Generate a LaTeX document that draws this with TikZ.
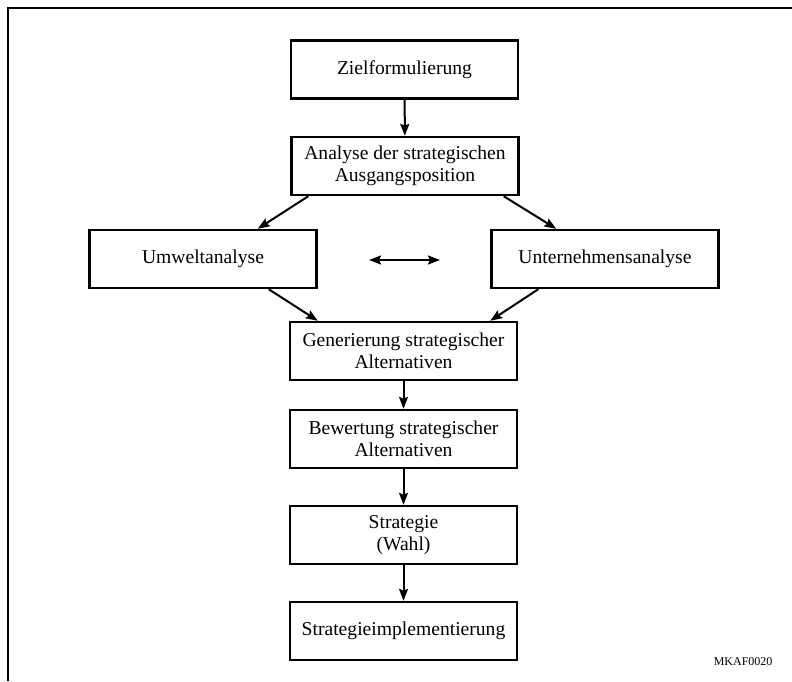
\documentclass[tikz,border=0pt]{standalone}
\usepackage{fontspec}
\setmainfont{Liberation Serif}
\usetikzlibrary{arrows.meta,calc}
\begin{document}
\begin{tikzpicture}[x=1pt,y=-1pt,
  stepbox/.style={draw, line width=2.4pt, minimum width=227pt, minimum height=58pt,
    inner sep=2pt, align=center, font=\fontsize{19.6}{22}\selectfont},
  tip/.tip={Stealth[length=12pt,width=9pt,inset=2pt]},
  flow/.style={line width=2pt, -tip},
  both/.style={line width=2pt, tip-tip},
  frameline/.style={line width=2.2pt}]
  \useasboundingbox (0,0) rectangle (792,681);
  % open frame: top and left edges
  \draw[frameline] (8,681) -- (8,8) -- (792,8);

  \node[stepbox] (ziel)    at (404.5,69.5)  {Zielformulierung};
  \node[stepbox] (analyse) at (405,166) {Analyse der strategischen\\Ausgangsposition};
  \node[stepbox] (umwelt)  at (203,259) {Umweltanalyse};
  \node[stepbox] (untern)  at (605,259)   {Unternehmensanalyse};
  \node[stepbox] (gen)     at (403.5,351) {Generierung strategischer\\Alternativen};
  \node[stepbox] (bew)     at (403.5,439) {Bewertung strategischer\\Alternativen};
  \node[stepbox] (strat)   at (403.5,535) {Strategie\\(Wahl)};
  \node[stepbox] (impl)    at (403.5,631) {Strategieimplementierung};
  \node[font=\fontsize{12}{14}\selectfont, anchor=east] (code) at (776,662) {MKAF0020};

  \coordinate (mid) at ($(umwelt)!0.5!(untern)$);

  \draw[flow] (ziel) -- (analyse);
  \draw[flow] ([xshift=18pt]analyse.south west) -- ([xshift=-60pt]umwelt.north east);
  \draw[flow] ([xshift=-16pt]analyse.south east) -- ([xshift=66pt]untern.north west);
  \draw[flow] ([xshift=-49pt]umwelt.south east) -- ([xshift=29pt]gen.north west);
  \draw[flow] ([xshift=48pt]untern.south west) -- ([xshift=-28pt]gen.north east);
  \draw[both] ([shift={(-35pt,-1pt)}]mid) -- ([shift={(36pt,-1pt)}]mid);
  \draw[flow] (gen) -- (bew);
  \draw[flow] (bew) -- (strat);
  \draw[flow] (strat) -- (impl);
\end{tikzpicture}
\end{document}
